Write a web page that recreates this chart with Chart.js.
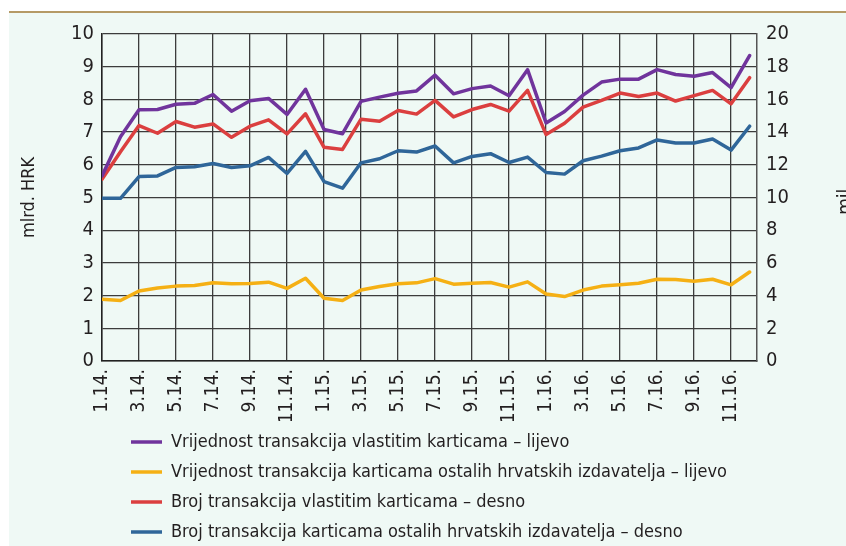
<!DOCTYPE html>
<html>
<head>
<meta charset="utf-8">
<script src="https://cdn.jsdelivr.net/npm/chart.js@4.4.0/dist/chart.umd.min.js"></script>
<style>
  html, body { margin: 0; padding: 0; background: #fff; overflow: hidden; }
  #panel { position: absolute; left: 9px; top: 11px; width: 837px; height: 535px;
           background: #eff9f5; border-top: 2px solid #b59a66; }
  #wrap { position: absolute; left: 0; top: 0; width: 846px; height: 560px; }
</style>
</head>
<body>
<div id="panel"></div>
<div id="wrap"><canvas id="chart"></canvas></div>
<script>
// months, 1.14. to 12.16.
const months = [
  "1.14.", "2.14.", "3.14.", "4.14.", "5.14.", "6.14.", "7.14.", "8.14.", "9.14.", "10.14.", "11.14.", "12.14.",
  "1.15.", "2.15.", "3.15.", "4.15.", "5.15.", "6.15.", "7.15.", "8.15.", "9.15.", "10.15.", "11.15.", "12.15.",
  "1.16.", "2.16.", "3.16.", "4.16.", "5.16.", "6.16.", "7.16.", "8.16.", "9.16.", "10.16.", "11.16.", "12.16."
];

// left axis, mlrd. HRK
const vrijednostVlastite = [5.66, 6.86, 7.68, 7.69, 7.85, 7.88, 8.15, 7.64, 7.96, 8.03, 7.54, 8.31,
  7.08, 6.95, 7.94, 8.07, 8.19, 8.26, 8.74, 8.17, 8.33, 8.41, 8.11, 8.91,
  7.28, 7.63, 8.13, 8.53, 8.62, 8.62, 8.91, 8.76, 8.71, 8.82, 8.36, 9.34];
const vrijednostOstale = [1.89, 1.85, 2.14, 2.23, 2.29, 2.31, 2.39, 2.36, 2.37, 2.41, 2.22, 2.53,
  1.92, 1.85, 2.17, 2.28, 2.36, 2.39, 2.52, 2.35, 2.38, 2.40, 2.26, 2.42,
  2.05, 1.97, 2.17, 2.29, 2.33, 2.38, 2.50, 2.49, 2.44, 2.50, 2.33, 2.72];

// right axis, mil.
const brojVlastite = [11.12, 12.8, 14.4, 13.93, 14.65, 14.3, 14.5, 13.68, 14.36, 14.75, 13.89, 15.12,
  13.07, 12.94, 14.79, 14.67, 15.32, 15.1, 15.94, 14.93, 15.38, 15.69, 15.28, 16.55,
  13.85, 14.54, 15.53, 15.94, 16.39, 16.18, 16.39, 15.9, 16.23, 16.55, 15.73, 17.33];
const brojOstale = [9.95, 9.95, 11.28, 11.32, 11.84, 11.88, 12.08, 11.84, 11.94, 12.45, 11.47, 12.82,
  10.97, 10.57, 12.12, 12.37, 12.86, 12.78, 13.15, 12.12, 12.51, 12.68, 12.14, 12.47,
  11.53, 11.43, 12.25, 12.53, 12.86, 13.03, 13.52, 13.33, 13.33, 13.58, 12.9, 14.36];

const seriesNames = [
  "Vrijednost transakcija vlastitim karticama – lijevo",
  "Vrijednost transakcija karticama ostalih hrvatskih izdavatelja – lijevo",
  "Broj transakcija vlastitim karticama – desno",
  "Broj transakcija karticama ostalih hrvatskih izdavatelja – desno"
];
const leftTitle = "mlrd. HRK";
const rightTitle = "mil.";

const FONT = "'Liberation Sans Narrow', 'Arial Narrow', 'DejaVu Sans Condensed', sans-serif";
const TXT = "#231f20";
const GRID = "#3c3c3c";

Chart.defaults.font.family = FONT;
Chart.defaults.color = TXT;

const pts = arr => arr.map((v, i) => ({ x: i, y: v }));

function line(label, values, color, axis) {
  return {
    label: label,
    data: pts(values),
    yAxisID: axis,
    borderColor: color,
    backgroundColor: color,
    pointBorderColor: color,
    pointBackgroundColor: color,
    borderWidth: 3.5,
    pointBorderWidth: 3.5,
    pointRadius: 0,
    tension: 0,
    borderJoinStyle: "round",
    borderCapStyle: "round",
    fill: false
  };
}

const extras = {
  id: "extras",
  afterLayout(chart) {
    // legend sits under the plot, indented
    chart.legend.left = 119;
  },
  afterDraw(chart) {
    const ctx = chart.ctx;
    ctx.save();
    ctx.font = "19px " + FONT;
    ctx.fillStyle = TXT;
    ctx.translate(851, 199);
    ctx.rotate(-Math.PI / 2);
    ctx.textAlign = "center";
    ctx.textBaseline = "alphabetic";
    ctx.fillText(rightTitle, 0, 0);
    ctx.restore();
  }
};

new Chart(document.getElementById("chart"), {
  type: "line",
  data: {
    datasets: [
      line(seriesNames[0], vrijednostVlastite, "#70349c", "y"),
      line(seriesNames[1], vrijednostOstale, "#f5b014", "y"),
      line(seriesNames[2], brojVlastite, "#db3f3f", "y1"),
      line(seriesNames[3], brojOstale, "#2f6699", "y1")
    ]
  },
  options: {
    responsive: true,
    maintainAspectRatio: false,
    animation: false,
    events: [],
    layout: { padding: { top: 34, left: 0, right: 0, bottom: 9 } },
    scales: {
      x: {
        type: "linear",
        min: 0,
        max: 35.4,
        grid: { color: GRID, lineWidth: 1.3, drawTicks: false },
        border: { color: "#222", width: 1.5 },
        ticks: {
          stepSize: 2,
          includeBounds: false,
          autoSkip: false,
          minRotation: 90,
          maxRotation: 90,
          padding: 8,
          font: { size: 19 },
          callback: v => months[v] ?? ""
        },
        afterFit: s => { s.height = 60; }
      },
      y: {
        position: "left",
        min: 0,
        max: 10,
        grid: { color: GRID, lineWidth: 1.3, drawTicks: false },
        border: { color: "#222", width: 1.5 },
        ticks: { stepSize: 1, padding: 8, font: { size: 20 } },
        title: { display: true, text: leftTitle, font: { size: 18 }, padding: { top: 19, bottom: 0 } },
        afterFit: s => { s.width = 102; }
      },
      y1: {
        position: "right",
        min: 0,
        max: 20,
        grid: { drawOnChartArea: false, drawTicks: false },
        border: { color: "#555", width: 1.5 },
        ticks: { stepSize: 2, padding: 9, font: { size: 20 } },
        afterFit: s => { s.width = 89; }
      }
    },
    plugins: {
      tooltip: { enabled: false },
      legend: {
        position: "bottom",
        align: "start",
        labels: {
          usePointStyle: true,
          pointStyle: "line",
          pointStyleWidth: 31,
          padding: 12,
          font: { size: 18 },
          color: TXT
        }
      }
    }
  },
  plugins: [extras]
});
</script>
</body>
</html>
